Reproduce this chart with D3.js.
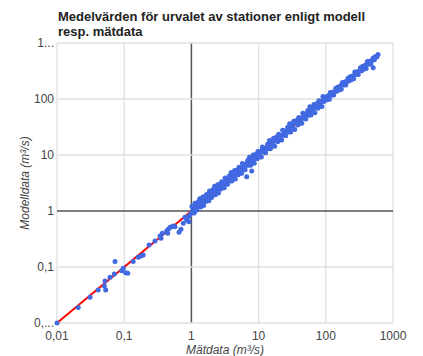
<!DOCTYPE html>
<html>
<head>
<meta charset="utf-8">
<script src="https://cdn.jsdelivr.net/npm/d3@7"></script>
<style>
  body { margin: 0; background: #fff; }
  svg { font-family: Arial, "Liberation Sans", sans-serif; }
</style>
</head>
<body>
<div class="vis-scatter"></div>
<script>
// Mätdata (x) och Modelldata (y), m³/s
const matdata = [
  0.01, 0.0207, 0.031, 0.041, 0.0506, 0.0518, 0.053, 0.0615, 0.0713, 0.073,
  0.0918, 0.097, 0.105, 0.113, 0.136, 0.162, 0.178, 0.192, 0.234, 0.287,
  0.341, 0.353, 0.369, 0.429, 0.444, 0.453, 0.481, 0.509, 0.538, 0.57,
  0.654, 0.70, 0.757, 0.80, 0.851, 0.90, 0.92, 0.953, 1.01, 1.07,
  1.02, 1.05, 1.08, 1.1, 1.13, 1.15, 1.18, 1.2, 1.24, 1.27, 1.3, 1.33, 1.37, 1.4, 1.44, 1.48,
  1.52, 1.55, 1.6, 1.64, 1.68, 1.72, 1.77, 1.82, 1.86, 1.9, 1.95, 2.0, 2.05, 2.1, 2.16, 2.22,
  2.28, 2.35, 2.4, 2.46, 2.53, 2.6, 2.68, 2.75, 2.82, 2.9, 3.0, 3.08, 3.17, 3.25, 3.35, 3.45,
  3.55, 3.65, 3.75, 3.9, 4.0, 4.1, 4.25, 4.4, 4.5, 4.65, 4.8, 4.95, 5.1, 5.25, 5.4, 5.6,
  5.75, 5.9, 6.1, 6.3, 6.5, 6.65, 6.9, 7.1, 7.3, 7.6, 7.8, 7.9, 8.0, 8.3, 8.6, 8.9, 9.2, 9.5, 9.8,
  10.2, 10.6, 11, 11.4, 11.8, 12.2, 12.7, 13.1, 13.6, 14, 14.5, 15, 15.6, 16.1, 16.7, 17.3,
  17.9, 18.5, 19.2, 19.9, 20.6, 21.3, 22, 22.8, 23.6, 24.4, 25.3, 26.2, 27.1, 28, 29, 30,
  31, 32.2, 33.3, 34.5, 35.7, 37, 38.3, 39.6, 41, 42.5, 44, 45.5, 47, 48.7, 50.4, 52.2,
  54, 56, 58, 60, 62, 64.3, 66.5, 68.8, 71.2, 73.7, 76.3, 79, 81.8, 84.7, 87.7, 90.7, 94, 97.3,
  101, 105, 109, 113, 117, 121, 126, 131, 136, 141, 146, 152, 158, 164, 170, 177,
  184, 191, 198, 206, 214, 222, 231, 240, 250, 260, 270, 281, 292, 304, 316, 328,
  341, 355, 369, 384, 399, 415, 432, 450, 468, 487, 507, 507, 528, 550, 575, 600,
  1.12, 1.35, 1.58, 1.75, 2.02, 2.3, 2.55, 2.95, 3.3, 3.8, 4.3, 4.75, 5.3, 6.0, 6.8, 7.45,
  8.45, 9.35, 10.8, 12.5, 14.2, 16.4, 18.8, 21.6, 24.8, 27.6, 31.6, 36.3, 40.3, 46.3, 51.3, 57,
  63, 70, 75, 83, 92.3, 111, 124, 148, 173, 202, 236, 276, 335, 392, 460
];
const modelldata = [
  0.01, 0.019, 0.0288, 0.0388, 0.0458, 0.0562, 0.0388, 0.0655, 0.075, 0.126,
  0.086, 0.0948, 0.079, 0.077, 0.126, 0.149, 0.157, 0.164, 0.247, 0.291,
  0.358, 0.326, 0.40, 0.44, 0.40, 0.471, 0.512, 0.525, 0.54, 0.525,
  0.417, 0.471, 0.603, 0.773, 0.69, 0.79, 0.644, 0.849, 0.933, 1.04,
  1.20, 0.945, 1.13, 0.92, 1.38, 1.10, 1.30, 1.04, 1.24, 1.46, 1.20, 1.66, 1.18, 1.51, 1.37, 1.78,
  1.26, 1.60, 1.81, 1.48, 1.98, 1.55, 1.86, 1.53, 2.27, 1.82, 2.15, 1.74, 2.05, 2.42, 1.99, 2.78,
  1.96, 2.54, 2.28, 2.95, 2.10, 2.68, 3.03, 2.48, 3.33, 2.61, 3.15, 2.59, 3.87, 3.12, 3.69, 3.0,
  3.55, 4.2, 3.45, 4.88, 3.44, 4.43, 4.04, 5.28, 3.74, 4.79, 5.42, 4.46, 6.02, 4.73, 5.67, 4.70,
  7.02, 5.66, 6.71, 5.48, 6.5, 4.1, 7.94, 6.53, 9.13, 6.54, 8.42, 5.2, 7.6, 9.96, 7.14, 9.17, 10.4, 8.55, 11.6,
  9.18, 11.1, 9.24, 13.9, 11.3, 13.4, 11.0, 13.1, 15.6, 12.9, 18.1, 12.9, 16.8, 15.3, 20.0, 14.4,
  18.4, 20.9, 17.3, 23.5, 18.5, 22.4, 18.5, 27.8, 22.7, 26.8, 22.0, 26.2, 31.2, 25.8, 36.3, 25.8,
  33.5, 30.6, 40.0, 28.6, 36.8, 41.8, 34.5, 46.7, 36.9, 44.6, 37.0, 55.5, 45.1, 53.6, 43.8, 52.2,
  62.1, 51.5, 72.5, 51.6, 67.0, 61.1, 79.8, 57.1, 73.3, 83.3, 68.7, 93.2, 73.6, 88.9, 73.7, 111, 90.2, 107,
  109, 96.6, 112, 99.4, 131, 117, 132, 118, 136, 155, 137, 164, 145, 169, 150, 198,
  178, 201, 178, 206, 235, 209, 249, 221, 258, 229, 302, 273, 307, 274, 316, 361,
  321, 383, 339, 396, 351, 465, 419, 473, 421, 487, 537, 362, 502, 572, 564, 624,
  1.0, 1.45, 1.5, 1.95, 2.2, 2.2, 2.8, 2.8, 3.6, 3.7, 4.7, 4.6, 5.9, 6.2, 7.4, 7.8,
  8.3, 10.1, 11.8, 12.2, 15.4, 17.5, 19.8, 21, 26.5, 29.8, 31, 39, 42.5, 48.5, 55, 56,
  66.5, 71, 80, 83.5, 99, 117, 128, 154, 181, 205, 245, 290, 345, 404, 470
];
// röd referenslinje y = x
const linje = [0.01, 600];

const xTicks = [0.01, 0.1, 1, 10, 100, 1000];
const xTickLabels = ["0,01", "0,1", "1", "10", "100", "1000"];
const yTicks = [0.01, 0.1, 1, 10, 100, 1000];
const yTickLabels = ["0,...", "0,1", "1", "10", "100", "1..."];

const width = 423, height = 356;
const plot = { left: 57, right: 393, top: 43, bottom: 323 };

const svg = d3.select(".vis-scatter")
  .append("svg")
  .attr("width", width)
  .attr("height", height);

let x = d3.scaleLog().domain([0.01, 1000]).range([plot.left, plot.right]);
let y = d3.scaleLog().domain([0.01, 1000]).range([plot.bottom, plot.top]);

// gridlines
const grid = svg.append("g");
grid.selectAll(".gx").data(xTicks).join("line")
  .attr("x1", d => x(d)).attr("x2", d => x(d))
  .attr("y1", plot.top).attr("y2", plot.bottom)
  .attr("stroke", d => d === 1 ? "#555" : "#e0e0e0")
  .attr("stroke-width", d => d === 1 ? 1.5 : 1.3);
grid.selectAll(".gy").data(yTicks).join("line")
  .attr("y1", d => y(d)).attr("y2", d => y(d))
  .attr("x1", plot.left).attr("x2", plot.right)
  .attr("stroke", d => d === 1 ? "#555" : "#e0e0e0")
  .attr("stroke-width", d => d === 1 ? 1.5 : 1.3);

// tick labels
svg.append("g").selectAll("text").data(xTicks).join("text")
  .attr("x", d => x(d)).attr("y", 340)
  .attr("text-anchor", "middle")
  .attr("font-size", 12).attr("fill", "#444")
  .text((d, i) => xTickLabels[i]);
svg.append("g").selectAll("text").data(yTicks).join("text")
  .attr("x", 54).attr("y", d => y(d) + 4)
  .attr("text-anchor", "end")
  .attr("font-size", 12).attr("fill", "#444")
  .text((d, i) => yTickLabels[i]);

// reference line
svg.append("line")
  .attr("x1", x(linje[0])).attr("y1", y(linje[0]))
  .attr("x2", x(linje[1])).attr("y2", y(linje[1]))
  .attr("stroke", "#ff0000").attr("stroke-width", 2);

// points
const pts = matdata.map((d, i) => ({ m: d, s: modelldata[i] }));
svg.append("g").selectAll("circle").data(pts).join("circle")
  .attr("cx", d => x(d.m)).attr("cy", d => y(d.s))
  .attr("r", 2.5)
  .attr("fill", "#4169e1");

// titles
const title = svg.append("text")
  .attr("x", 58).attr("y", 21)
  .attr("font-size", 13).attr("font-weight", "bold").attr("fill", "#222");
title.append("tspan").attr("x", 58).attr("y", 21).text("Medelvärden för urvalet av stationer enligt modell");
title.append("tspan").attr("x", 58).attr("y", 36).text("resp. mätdata");

svg.append("text")
  .attr("x", (plot.left + plot.right) / 2).attr("y", 354)
  .attr("text-anchor", "middle")
  .attr("font-size", 12).attr("font-style", "italic").attr("fill", "#444")
  .text("Mätdata (m³/s)");

svg.append("text")
  .attr("transform", `translate(29,${(plot.top + plot.bottom) / 2}) rotate(-90)`)
  .attr("text-anchor", "middle")
  .attr("font-size", 12).attr("font-style", "italic").attr("fill", "#444")
  .text("Modelldata (m³/s)");
</script>
</body>
</html>
